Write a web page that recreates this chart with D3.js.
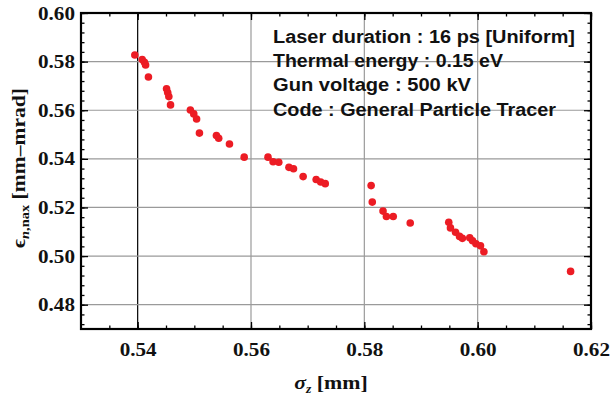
<!DOCTYPE html>
<html><head><meta charset="utf-8">
<script src="https://cdn.jsdelivr.net/npm/d3@7"></script>
<style>
html,body{margin:0;padding:0;background:#fff;}
svg{display:block;}
</style></head>
<body>
<svg id="chart" width="611" height="395"></svg>
<script>
// ---- data ----
const sigmaZ = [0.5395,0.5408,0.5412,0.5414,0.5419,0.5451,0.5453,0.5455,0.5458,0.5493,0.5499,0.5504,0.5509,0.5539,0.5543,0.5562,0.5588,0.5630,0.5639,0.5649,0.5667,0.5675,0.5692,0.5715,0.5723,0.5731,0.5812,0.5814,0.5833,0.5839,0.5851,0.5881,0.5949,0.5952,0.5961,0.5968,0.5973,0.5986,0.5991,0.5997,0.6005,0.6011,0.6164];
const emittance = [0.5827,0.5809,0.5797,0.5786,0.5737,0.5688,0.5673,0.5656,0.5622,0.5601,0.5585,0.5564,0.5506,0.5496,0.5485,0.5461,0.5407,0.5407,0.5388,0.5386,0.5365,0.5359,0.5327,0.5315,0.5305,0.5298,0.5290,0.5222,0.5185,0.5163,0.5163,0.5136,0.5139,0.5116,0.5098,0.5081,0.5073,0.5075,0.5063,0.5051,0.5042,0.5018,0.4937];
const xTicks = [0.54,0.56,0.58,0.60,0.62];
const yTicks = [0.48,0.50,0.52,0.54,0.56,0.58,0.60];
const xMinor = d3.range(0.535,0.6201,0.005);
const yMinor = d3.range(0.472,0.6001,0.004);
const infoLines = ["Laser duration : 16 ps [Uniform]","Thermal energy : 0.15 eV","Gun voltage : 500 kV","Code : General Particle Tracer"];
const infoWidths = [302,230,198,283];

const SERIF = "'Liberation Serif', 'Times New Roman', serif";
const SANS = "'Liberation Sans', Arial, sans-serif";
const svg = d3.select("#chart");
const L=81,R=591,T=13,B=329;
const x = d3.scaleLinear().domain([0.53,0.62]).range([L,R]);
const y = d3.scaleLinear().domain([0.47,0.60]).range([B,T]);

// grid
const grid = svg.append("g");
grid.selectAll("line.gx").data(xTicks.filter(d=>d<0.62)).join("line")
  .attr("x1",d=>x(d)).attr("x2",d=>x(d)).attr("y1",T).attr("y2",B)
  .attr("stroke",d=>Math.abs(d-0.54)<1e-9?"#000":"#9a9a9a").attr("stroke-width",1.2);
grid.selectAll("line.gy").data(yTicks.filter(d=>d<0.60)).join("line")
  .attr("x1",L).attr("x2",R).attr("y1",d=>y(d)).attr("y2",d=>y(d))
  .attr("stroke","#9a9a9a").attr("stroke-width",1.2);

// axes
function styleAxis(g){ g.select(".domain").remove(); g.selectAll("line").attr("stroke","#000").attr("stroke-width",1.3); }
function styleLabels(g){
  g.selectAll("text").style("font-family",SERIF).style("font-weight","bold").style("font-size","19px")
   .attr("fill","#111").attr("textLength",37).attr("lengthAdjust","spacingAndGlyphs");
}
const fmt = d3.format(".2f");
const xb = svg.append("g").attr("transform",`translate(0,${B})`)
  .call(d3.axisBottom(x).tickValues(xTicks).tickFormat(fmt).tickSizeInner(-7).tickPadding(14));
styleAxis(xb); styleLabels(xb);
const yl = svg.append("g").attr("transform",`translate(${L},0)`)
  .call(d3.axisLeft(y).tickValues(yTicks).tickFormat(fmt).tickSizeInner(-7).tickPadding(6));
styleAxis(yl); styleLabels(yl);
// top/right major ticks
const xt = svg.append("g").attr("transform",`translate(0,${T})`)
  .call(d3.axisTop(x).tickValues(xTicks).tickFormat("").tickSizeInner(-7)); styleAxis(xt);
const yr = svg.append("g").attr("transform",`translate(${R},0)`)
  .call(d3.axisRight(y).tickValues(yTicks).tickFormat("").tickSizeInner(-7)); styleAxis(yr);
// minor ticks
[[d3.axisBottom(x).tickValues(xMinor),`translate(0,${B})`],[d3.axisTop(x).tickValues(xMinor),`translate(0,${T})`],
 [d3.axisLeft(y).tickValues(yMinor),`translate(${L},0)`],[d3.axisRight(y).tickValues(yMinor),`translate(${R},0)`]]
 .forEach(([ax,tr])=>{ const g=svg.append("g").attr("transform",tr).call(ax.tickFormat("").tickSizeInner(-3.5)); styleAxis(g); });

// frame
svg.append("rect").attr("x",L).attr("y",T).attr("width",R-L).attr("height",B-T)
  .attr("fill","none").attr("stroke","#000").attr("stroke-width",2.2);

// points
svg.append("g").selectAll("circle").data(sigmaZ.map((d,i)=>[d,emittance[i]])).join("circle")
  .attr("cx",d=>x(d[0])).attr("cy",d=>y(d[1])).attr("r",3.8).attr("fill","#ec1c24");

// info text
svg.append("g").selectAll("text").data(infoLines).join("text")
  .attr("x",273).attr("y",(d,i)=>43+i*24.2)
  .style("font-family",SANS).style("font-weight","bold").style("font-size","17.5px").attr("fill","#111")
  .attr("textLength",(d,i)=>infoWidths[i]).attr("lengthAdjust","spacingAndGlyphs")
  .text(d=>d);

// axis titles
const xt2 = svg.append("text").attr("transform","translate(331,389) scale(1.15,1)").attr("text-anchor","middle")
  .style("font-family",SERIF).style("font-weight","bold").style("font-size","19px").attr("fill","#111");
xt2.append("tspan").style("font-style","italic").text("σ");
xt2.append("tspan").style("font-style","italic").style("font-size","12px").attr("dy",4).text("z");
xt2.append("tspan").attr("dy",-4).text(" [mm]");

const yt = svg.append("text").attr("transform","translate(25,168) rotate(-90) scale(1.2,1)").attr("text-anchor","middle")
  .style("font-family",SERIF).style("font-weight","bold").style("font-size","18px").attr("fill","#111");
yt.append("tspan").text("ϵ");
yt.append("tspan").style("font-style","italic").style("font-size","12px").attr("dy",4).text("n");
yt.append("tspan").style("font-size","12px").text(",nax");
yt.append("tspan").attr("dy",-4).text(" [mm–mrad]");
</script>
</body></html>
